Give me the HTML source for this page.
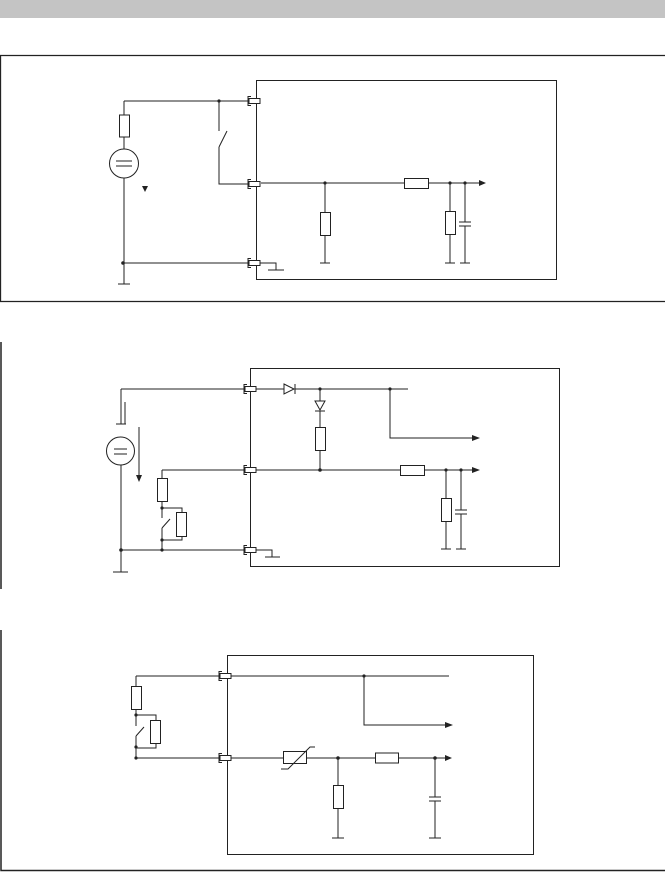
<!DOCTYPE html>
<html><head><meta charset="utf-8"><style>
html,body{margin:0;padding:0;background:#fff;width:665px;height:872px;overflow:hidden}
svg{display:block}
</style></head><body>
<svg width="665" height="872" viewBox="0 0 665 872" xmlns="http://www.w3.org/2000/svg">
<defs>
<g id="conn"><rect x="0" y="-2.5" width="11" height="5" fill="#fff" stroke="#222" stroke-width="1"/><path d="M2,-4.5 H-1 V4.5 H2" fill="none" stroke="#222" stroke-width="1"/></g>
</defs>
<rect x="0" y="0" width="665" height="18" fill="#c4c4c4"/>
<g fill="none" stroke="#222" stroke-width="1">
<!-- panel borders -->
<path d="M0.5,301 V55.5 H665 M0,301.5 H665" stroke-width="1.3"/>
<path d="M1,342 V589" stroke-width="1.5"/>
<path d="M1,630 V870.5 H665" stroke-width="1.5"/>

<!-- PANEL 1 -->
<rect x="256.5" y="80.5" width="300" height="199"/>
<path d="M124,101 H249 M124,101 V115 M124,137 V149 M124,178 V281 M118,284 H130 M124,281 V284"/>
<rect x="119.5" y="115" width="10" height="22"/>
<circle cx="124" cy="163.5" r="14.5"/>
<path d="M116,161 H132 M116,166 H132"/>
<path d="M219,101 V131 M219,147 L227,131 M219,147 V184 H249"/>
<path d="M124,263 H249 M260,263 H276 V270 M268,270 H284"/>
<path d="M261,183 H482 M325,183 V212 M325,235 V263 M320,263 H330 M450,183 V211 M450,234 V263 M445,263 H455 M465,183 V222 M465,226 V263 M460,263 H470 M459,222 H471 M459,226 H471"/>
<rect x="320.5" y="212.5" width="10" height="23"/>
<rect x="404.5" y="178.5" width="24" height="10" fill="#fff"/>
<rect x="445.5" y="211.5" width="10" height="23"/>

<!-- PANEL 2 -->
<rect x="250.5" y="368.5" width="309" height="198"/>
<path d="M121,389 H245 M121,389 V424 M116,424 H126 M125,402 V424 M121,465 V572 M113,572 H128"/>
<circle cx="120.5" cy="451" r="14"/>
<path d="M114,449 H127 M114,454 H127"/>
<path d="M139,427 V476"/>
<path d="M162,470 H245 M162,470 V478 M162,502 V508 H182 V512 M182,536 V540 H162 M162,508 V518 M162,528 L170,519 M162,528 V550 M121,550 H245"/>
<rect x="157.5" y="478.5" width="10" height="23"/>
<rect x="176.5" y="512.5" width="10" height="24"/>
<path d="M256,550 H272 V557 M265,557 H280"/>
<path d="M256,389 H284 M295,389 H408 M390,389 V438 H476"/>
<path d="M320,389 V401 M320,411 V427 M320,450 V470"/>
<rect x="315.5" y="427.5" width="10" height="23"/>
<path d="M256,470 H476 M446,470 V498 M446,521 V549 M441,549 H451 M461,470 V510 M461,514 V549 M456,549 H466 M455,510 H467 M455,514 H467"/>
<rect x="400.5" y="465.5" width="24" height="10" fill="#fff"/>
<rect x="441.5" y="498.5" width="10" height="23" fill="#fff"/>

<!-- PANEL 3 -->
<rect x="227.5" y="655.5" width="306" height="199"/>
<path d="M136,676 H220 M231,676 H449 M364,676 V725 H450"/>
<path d="M136,676 V686 M136,709 V715 H156 V720 M156,743 V748 H136 M136,715 V726 M136,736 L144,727 M136,736 V758 H220"/>
<rect x="131.5" y="686.5" width="10" height="23"/>
<rect x="150.5" y="720.5" width="10" height="23"/>
<path d="M231,758 H448"/>
<rect x="283.5" y="751.5" width="23" height="12" fill="#fff"/>
<path d="M281,769 H288 L310,747 H315"/>
<path d="M338,758 V785 M338,808 V838 M332,838 H344"/>
<rect x="333.5" y="785.5" width="10" height="23"/>
<rect x="375.5" y="753" width="23" height="10" fill="#fff"/>
<path d="M435,758 V797 M435,801 V838 M429,838 H441 M429,797 H441 M429,801 H441"/>
</g>

<!-- connectors -->
<use href="#conn" x="249" y="101"/>
<use href="#conn" x="249" y="184"/>
<use href="#conn" x="249" y="263"/>
<use href="#conn" x="245" y="389"/>
<use href="#conn" x="245" y="470"/>
<use href="#conn" x="245" y="550"/>
<use href="#conn" x="220" y="676"/>
<use href="#conn" x="220" y="758"/>

<!-- diodes -->
<g fill="#fff" stroke="#222" stroke-width="1">
<path d="M284,384 L294,389 L284,394 Z"/>
<path d="M315,401 L325,401 L320,410 Z"/>
</g>
<path d="M295,384 V394 M315,411 H325" stroke="#222"/>

<!-- arrowheads -->
<g fill="#222">
<path d="M479,180 L486,183 L479,186 Z"/>
<path d="M472,435 L480,438 L472,441 Z"/>
<path d="M472,467 L480,470 L472,473 Z"/>
<path d="M445,722 L453,725 L445,728 Z"/>
<path d="M445,755 L452,758 L445,761 Z"/>
<path d="M136,475 L139,482 L142,475 Z"/>
<path d="M142,186 L145,192 L148,186 Z"/>
</g>

<!-- dots -->
<g fill="#222">
<circle cx="219" cy="101" r="1.6"/><circle cx="123" cy="263" r="1.8"/>
<circle cx="325" cy="183" r="1.6"/><circle cx="450" cy="183" r="1.6"/><circle cx="465" cy="183" r="1.6"/>
<circle cx="320" cy="389" r="1.6"/><circle cx="390" cy="389" r="1.6"/><circle cx="320" cy="470" r="1.8"/>
<circle cx="446" cy="470" r="1.6"/><circle cx="461" cy="470" r="1.6"/>
<circle cx="121" cy="550" r="1.8"/><circle cx="162" cy="550" r="1.6"/><circle cx="162" cy="508" r="1.6"/><circle cx="162" cy="540" r="1.6"/>
<circle cx="364" cy="676" r="1.6"/><circle cx="136" cy="715" r="1.6"/><circle cx="136" cy="747" r="1.6"/><circle cx="136" cy="758" r="1.6"/>
<circle cx="338" cy="758" r="1.8"/><circle cx="435" cy="758" r="1.8"/>
</g>
</svg>
</body></html>
